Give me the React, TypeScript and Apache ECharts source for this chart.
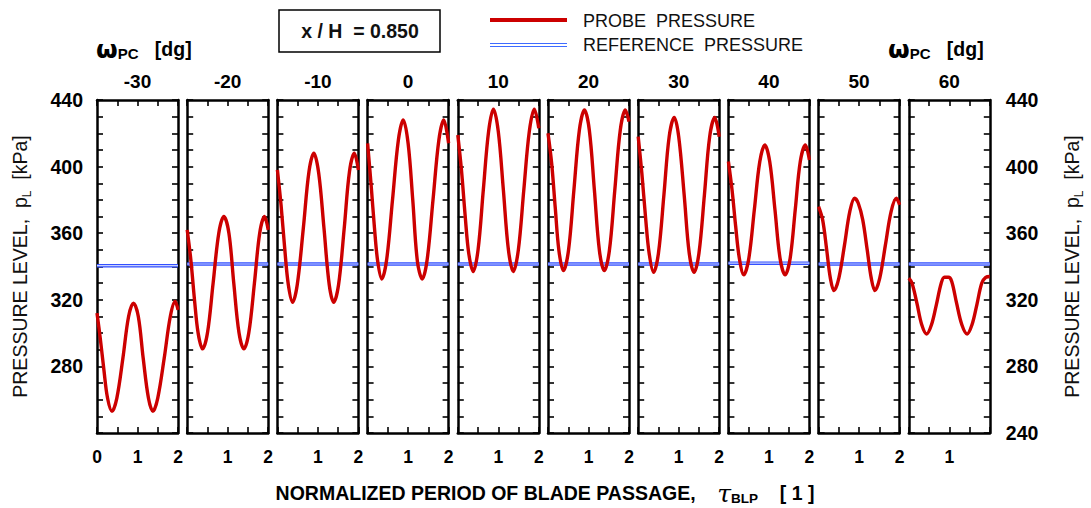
import { useEffect, useRef } from 'react';
import * as echarts from 'echarts';

const FONT = 'Liberation Sans, Arial, Helvetica, sans-serif';

// omega_PC [dg] of each panel
const OMEGA_DG = ['-30', '-20', '-10', '0', '10', '20', '30', '40', '50', '60'];

// tau_BLP [1] vs probe pressure p_L [kPa]
const P_M30 = [[0,312],[0.08,297],[0.17,278],[0.26,261],[0.37,253],[0.49,261],[0.64,285],[0.78,310],[0.9,318],[1.02,310],[1.14,285],[1.27,261],[1.38,253],[1.5,261],[1.66,285],[1.81,310],[1.93,319],[2,314]];
const P_M20 = [[0,362],[0.09,344],[0.18,320],[0.27,300],[0.38,290.5],[0.5,300],[0.64,330],[0.78,360],[0.905,370],[1.03,360],[1.15,330],[1.28,300],[1.4,290.5],[1.52,300],[1.66,330],[1.79,360],[1.91,370],[2,362]];
const P_M10 = [[0,398],[0.09,377],[0.18,351],[0.27,329],[0.375,318.5],[0.49,329],[0.64,363],[0.78,397],[0.9,408],[1.02,396],[1.15,363],[1.28,329],[1.39,318.5],[1.51,329],[1.65,363],[1.78,397],[1.9,408],[2,398]];
const P_0 = [[0,414],[0.09,388],[0.17,363],[0.25,343],[0.35,332.5],[0.47,344],[0.615,380],[0.76,416],[0.88,428],[1.0,414],[1.115,380],[1.23,343],[1.35,332.5],[1.47,344],[1.615,380],[1.76,416],[1.88,428],[2,414]];
const P_10 = [[0,419],[0.09,398],[0.18,371],[0.27,348],[0.38,337],[0.5,350],[0.63,386],[0.76,421],[0.88,434.5],[1.0,421],[1.125,386],[1.25,350],[1.37,337],[1.495,350],[1.63,386],[1.765,421],[1.89,434.5],[2,423]];
const P_20 = [[0,420],[0.09,402],[0.18,375],[0.27,349.5],[0.38,337.5],[0.505,349.5],[0.64,386],[0.775,422],[0.9,434],[1.02,422],[1.145,386],[1.27,349.5],[1.39,337.5],[1.515,349.5],[1.65,386],[1.785,422],[1.91,434],[2,427]];
const P_30 = [[0,418],[0.09,396],[0.18,370],[0.27,348],[0.38,336.5],[0.5,348],[0.635,383],[0.765,418],[0.89,429.5],[1.0,418],[1.135,383],[1.26,348],[1.38,336.5],[1.5,348],[1.635,383],[1.765,418],[1.89,429.5],[2,418]];
const P_40 = [[0,403],[0.09,386],[0.18,364],[0.27,345],[0.38,335],[0.505,345],[0.64,374],[0.775,403],[0.9,413],[1.02,403],[1.15,374],[1.275,345],[1.4,335],[1.525,345],[1.65,374],[1.775,403],[1.9,413],[2,404]];
const P_50 = [[0,376],[0.1,368],[0.2,350],[0.29,333],[0.38,325.5],[0.5,333],[0.64,353],[0.77,373],[0.89,381],[0.98,378],[1.09,368],[1.2,350],[1.3,333],[1.39,325.5],[1.51,333],[1.65,353],[1.79,373],[1.92,381],[2,377]];
const P_60 = [[0,333],[0.08,330],[0.2,318],[0.32,305],[0.44,299.5],[0.56,305],[0.68,317],[0.8,330],[0.88,333.5],[0.98,333.5],[1.06,331],[1.18,318],[1.31,305],[1.44,299.5],[1.56,305],[1.68,317],[1.8,330],[1.9,333.5],[2,334]];
const CURVES = [P_M30, P_M20, P_M10, P_0, P_10, P_20, P_30, P_40, P_50, P_60];

// reference pressure [kPa] per panel
const REF_P = [340.5, 341.5, 341.5, 341.5, 341.5, 341.5, 341.5, 342, 341.5, 341.5];

// tau tick labels shown under each panel
const TAU_LABELS_FIRST = [0, 1, 2];
const TAU_LABELS_MID = [1, 2];
const TAU_LABELS_LAST = [1];

const Y_NAME = '{a|PRESSURE LEVEL,  p}{s|L}{a|  [kPa]}';

export default function App() {
  const ref = useRef<HTMLDivElement>(null);
  useEffect(() => {
    const chart = echarts.init(ref.current!, null, { renderer: 'svg' });
    const n = OMEGA_DG.length;
    const grids: any[] = [];
    const xAxes: any[] = [];
    const yAxes: any[] = [];
    const series: any[] = [];
    const axisLine = { show: true, onZero: false, lineStyle: { color: '#000', width: 2.5 } };
    const tick = { show: true, inside: true, length: 6, lineStyle: { color: '#000', width: 1.6 } };
    const yNameStyle = {
      color: '#111',
      rich: {
        a: { fontSize: 19.5, fontFamily: FONT, color: '#111', lineHeight: 26 },
        s: { fontSize: 12, fontFamily: FONT, color: '#111', lineHeight: 12, verticalAlign: 'bottom' },
      },
    };
    for (let i = 0; i < n; i++) {
      grids.push({ left: 97 + i * 90.2, top: 100, width: 81, height: 333 });
      const labs = i === 0 ? TAU_LABELS_FIRST : i === n - 1 ? TAU_LABELS_LAST : TAU_LABELS_MID;
      xAxes.push({
        gridIndex: i, type: 'value', min: 0, max: 2, interval: 0.5, position: 'bottom',
        axisLine, axisTick: tick, splitLine: { show: false },
        axisLabel: {
          show: true, margin: 15, showMinLabel: true, showMaxLabel: true,
          formatter: (v: number) => (labs.includes(v) ? String(v) : ''),
          fontSize: 17.5, fontWeight: 'bold', color: '#000', fontFamily: FONT,
        },
      });
      xAxes.push({
        gridIndex: i, type: 'value', min: 0, max: 2, interval: 0.5, position: 'top',
        axisLine, axisTick: tick, splitLine: { show: false }, axisLabel: { show: false },
        name: OMEGA_DG[i], nameLocation: 'middle', nameGap: 9,
        nameTextStyle: { fontSize: 19, fontWeight: 'bold', color: '#000', fontFamily: FONT },
      });
      yAxes.push({
        gridIndex: i, type: 'value', min: 240, max: 440, interval: 40, position: 'left',
        axisLine, axisTick: tick,
        minorTick: { show: true, splitNumber: 4, length: 6, lineStyle: { color: '#000', width: 1.6 } },
        splitLine: { show: false }, minorSplitLine: { show: false },
        axisLabel: {
          show: i === 0, margin: 14, showMinLabel: true, showMaxLabel: true,
          formatter: (v: number) => (v === 240 ? '' : String(v)),
          fontSize: 19.5, fontWeight: 'bold', color: '#000', fontFamily: FONT,
        },
        name: i === 0 ? Y_NAME : '', nameLocation: 'middle', nameGap: 64, nameRotate: 90,
        nameTextStyle: yNameStyle,
      });
      yAxes.push({
        gridIndex: i, type: 'value', min: 240, max: 440, interval: 40, position: 'right',
        axisLine, axisTick: tick,
        minorTick: { show: true, splitNumber: 4, length: 6, lineStyle: { color: '#000', width: 1.6 } },
        splitLine: { show: false }, minorSplitLine: { show: false },
        axisLabel: {
          show: i === n - 1, margin: 16, showMinLabel: true, showMaxLabel: true,
          fontSize: 19.5, fontWeight: 'bold', color: '#000', fontFamily: FONT,
        },
        name: i === n - 1 ? Y_NAME : '', nameLocation: 'middle', nameGap: 69, nameRotate: 90,
        nameTextStyle: yNameStyle,
      });
      const refData = [[0, REF_P[i]], [2, REF_P[i]]];
      series.push({
        type: 'line', name: 'REFERENCE PRESSURE', xAxisIndex: 2 * i, yAxisIndex: 2 * i,
        data: refData, showSymbol: false, symbol: 'none', z: 2,
        lineStyle: { color: '#3350ff', width: 3.5 },
      });
      series.push({
        type: 'line', name: 'REFERENCE PRESSURE (inner)', xAxisIndex: 2 * i, yAxisIndex: 2 * i,
        data: refData, showSymbol: false, symbol: 'none', z: 3,
        lineStyle: { color: '#c8d0ff', width: 1.1 },
      });
      series.push({
        type: 'line', name: 'PROBE PRESSURE', xAxisIndex: 2 * i, yAxisIndex: 2 * i,
        data: CURVES[i], showSymbol: false, symbol: 'none', smooth: 0.35, z: 4,
        lineStyle: { color: '#cc0000', width: 3.4 },
      });
    }

    const txt = (x: number, y: number, text: string, font: string, align = 'left', extra: any = {}) => ({
      type: 'text', x, y,
      style: { text, font, fill: '#111', align, textAlign: align, verticalAlign: 'middle', textVerticalAlign: 'middle', ...extra },
    });
    const omegaRich = {
      w: { fontSize: 25, fontWeight: 'bold', fontFamily: 'DejaVu Sans, ' + FONT, color: '#111', lineHeight: 24 },
      s: { fontSize: 15, fontWeight: 'bold', fontFamily: FONT, color: '#111', lineHeight: 15, verticalAlign: 'bottom' },
      b: { fontSize: 19.5, fontWeight: 'bold', fontFamily: FONT, color: '#111', lineHeight: 24 },
    };
    const omegaText = '{w|ω}{s|PC}{b|   [dg]}';

    const graphic: any[] = [
      { type: 'rect', shape: { x: 279, y: 10, width: 161, height: 42 }, style: { fill: '#fff', stroke: '#000', lineWidth: 1.5 } },
      txt(360, 31, 'x / H  = 0.850', 'bold 19.5px ' + FONT, 'center'),
      { type: 'line', shape: { x1: 490, y1: 20, x2: 567, y2: 20 }, style: { stroke: '#cc0000', lineWidth: 4 } },
      { type: 'line', shape: { x1: 490, y1: 43.5, x2: 567, y2: 43.5 }, style: { stroke: '#3f6bff', lineWidth: 1.2 } },
      { type: 'line', shape: { x1: 490, y1: 46.5, x2: 567, y2: 46.5 }, style: { stroke: '#3f6bff', lineWidth: 1.2 } },
      txt(583, 21, 'PROBE  PRESSURE', '18px ' + FONT),
      txt(583, 45, 'REFERENCE  PRESSURE', '18px ' + FONT),
      { type: 'text', x: 96, y: 49, style: { text: omegaText, rich: omegaRich, align: 'left', verticalAlign: 'middle', textAlign: 'left', textVerticalAlign: 'middle' } },
      { type: 'text', x: 888, y: 49, style: { text: omegaText, rich: omegaRich, align: 'left', verticalAlign: 'middle', textAlign: 'left', textVerticalAlign: 'middle' } },
      {
        type: 'text', x: 545, y: 493,
        style: {
          text: '{b|NORMALIZED PERIOD OF BLADE PASSAGE,    }{t|τ}{s|BLP}{b|    [ 1 ]}',
          align: 'center', verticalAlign: 'middle', textAlign: 'center', textVerticalAlign: 'middle',
          rich: {
            b: { fontSize: 19.5, fontWeight: 'bold', fontFamily: FONT, color: '#111', lineHeight: 24 },
            t: { fontSize: 25, fontStyle: 'italic', fontFamily: 'DejaVu Serif, serif', color: '#111', lineHeight: 24 },
            s: { fontSize: 13.5, fontWeight: 'bold', fontFamily: FONT, color: '#111', lineHeight: 14, verticalAlign: 'bottom' },
          },
        },
      },
    ];

    chart.setOption({
      animation: false,
      backgroundColor: '#fff',
      grid: grids,
      xAxis: xAxes,
      yAxis: yAxes,
      series,
      graphic,
    });
    return () => chart.dispose();
  }, []);
  return <div ref={ref} style={{ position: 'absolute', left: 0, top: 0, width: 1091, height: 508, background: '#fff' }} />;
}
